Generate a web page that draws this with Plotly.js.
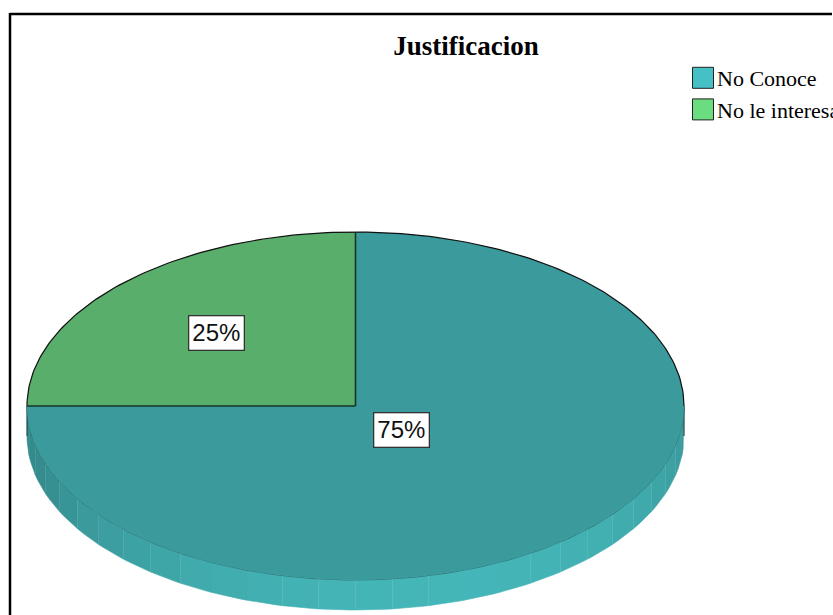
<!DOCTYPE html>
<html>
<head>
<meta charset="utf-8">
<script src="https://cdn.plot.ly/plotly-3.0.1.min.js"></script>
<style>html,body{margin:0;padding:0;background:#fff;}#chart{width:833px;height:615px;}</style>
</head>
<body>
<div id="chart"></div>
<script>
// ---- data ----
const categories = ['No Conoce', 'No le interesa'];
const values = [75, 25];
const pctLabels = ['75%', '25%'];
const chartTitle = 'Justificacion';
// ---- styles ----
const faceColors = ['#3a9a9c', '#5aae6b'];
const legendColors = ['#45c1c6', '#6cdc80'];

// geometry (pixel units, y downward)
const cx = 355.5, cy = 406, ra = 328.5, rb = 174, depth = 30;
const deg = Math.PI / 180;
function pt(theta, dy) { return [cx + ra * Math.cos(theta * deg), cy - rb * Math.sin(theta * deg) + (dy || 0)]; }

const total = values.reduce((s, v) => s + v, 0);
const traces = [];

// slice angle ranges: start at 12 o'clock, clockwise
let start = 90;
const slices = values.map(v => { const sweep = v / total * 360; const s = { a0: start, a1: start - sweep }; start -= sweep; return s; });

function sliceAt(theta) {
  for (let i = 0; i < slices.length; i++) {
    let t = theta; const hi = slices[i].a0, lo = slices[i].a1;
    while (t > hi) t -= 360; while (t < lo) t += 360;
    if (t <= hi && t >= lo) return i;
  }
  return 0;
}
function shade(hex, f) {
  const n = parseInt(hex.slice(1), 16);
  let r = n >> 16, g = (n >> 8) & 255, b = n & 255;
  const m = c => Math.max(0, Math.min(255, Math.round(c * f)));
  return 'rgb(' + m(r) + ',' + m(g) + ',' + m(b) + ')';
}
// side wall (front half), shaded bands
const nb = 28;
for (let k = 0; k < nb; k++) {
  const t0 = -180 + k * 180 / nb, t1 = -180 + (k + 1) * 180 / nb;
  const tm = (t0 + t1) / 2;
  const idx = sliceAt(tm);
  const light = Math.cos((tm + 75) * deg);
  const f = 0.9 + 0.28 * Math.max(0, light);
  const xs = [], ys = [];
  for (let t = t0; t <= t1 + 1e-9; t += (t1 - t0) / 6) { const p = pt(t); xs.push(p[0]); ys.push(p[1]); }
  for (let t = t1; t >= t0 - 1e-9; t -= (t1 - t0) / 6) { const p = pt(t, depth); xs.push(p[0]); ys.push(p[1]); }
  traces.push({ type: 'scatter', mode: 'lines', x: xs, y: ys, fill: 'toself', fillcolor: shade(faceColors[idx], f),
    line: { width: 0.6, color: shade(faceColors[idx], f) }, hoverinfo: 'skip', showlegend: false });
}
[-180, 0].forEach(t => { const p = pt(t), q = pt(t, depth);
  traces.push({ type: 'scatter', mode: 'lines', x: [p[0], q[0]], y: [p[1], q[1]], line: { color: '#1e4a4b', width: 1.2 }, hoverinfo: 'skip', showlegend: false }); });
{
  const xs = [], ys = [];
  for (let t = -180; t <= 0; t += 1) { const p = pt(t); xs.push(p[0]); ys.push(p[1]); }
  traces.push({ type: 'scatter', mode: 'lines', x: xs, y: ys, line: { color: '#2c7375', width: 1 }, hoverinfo: 'skip', showlegend: false });
}

// top faces
slices.forEach((s, i) => {
  const xs = [cx], ys = [cy];
  const steps = Math.ceil(Math.abs(s.a0 - s.a1));
  for (let j = 0; j <= steps; j++) { const t = s.a0 + (s.a1 - s.a0) * j / steps; const p = pt(t); xs.push(p[0]); ys.push(p[1]); }
  xs.push(cx); ys.push(cy);
  traces.push({ type: 'scatter', mode: 'lines', x: xs, y: ys, fill: 'toself', fillcolor: faceColors[i],
    line: { width: 0 }, hoverinfo: 'skip', showlegend: false, name: categories[i] });
});
{
  const xs = [], ys = [];
  for (let t = 0; t <= 180; t += 1) { const p = pt(t); xs.push(p[0]); ys.push(p[1]); }
  traces.push({ type: 'scatter', mode: 'lines', x: xs, y: ys, line: { color: '#111', width: 1.2 }, hoverinfo: 'skip', showlegend: false });
}
slices.forEach(s => { const p = pt(s.a0);
  traces.push({ type: 'scatter', mode: 'lines', x: [cx, p[0]], y: [cy, p[1]], line: { color: '#163526', width: 1.6 }, hoverinfo: 'skip', showlegend: false }); });

// legend entries
categories.forEach((c, i) => traces.push({ type: 'scatter', mode: 'markers', x: [null], y: [null], name: c,
  marker: { symbol: 'square', size: 16, color: legendColors[i], line: { color: '#222', width: 1 } }, showlegend: true }));

// labels
const labelPos = [[401, 430], [216, 333]];
const labelFont = { family: 'Liberation Sans Narrow, Arial Narrow, Liberation Sans, sans-serif', size: 24, color: '#111' };
const annotations = pctLabels.map((t, i) => ({ x: labelPos[i][0], y: labelPos[i][1], xref: 'x', yref: 'y', text: t, showarrow: false,
  font: labelFont, bgcolor: '#fff', bordercolor: '#333', borderwidth: 1.3, borderpad: 3 }));

const layout = {
  width: 833, height: 615, margin: { l: 0, r: 0, t: 0, b: 0, autoexpand: false },
  paper_bgcolor: '#fff', plot_bgcolor: '#fff',
  xaxis: { range: [0, 833], visible: false, fixedrange: true },
  yaxis: { range: [615, 0], visible: false, fixedrange: true },
  title: { text: '<b>' + chartTitle + '</b>', x: 466 / 833, xanchor: 'center', y: 1 - 46 / 615, yanchor: 'middle',
    font: { family: 'Liberation Serif', size: 27, color: '#000' } },
  showlegend: true,
  legend: { x: 677 / 833, y: 1 - 57 / 615, xanchor: 'left', yanchor: 'top', bgcolor: 'rgba(0,0,0,0)',
    font: { family: 'Liberation Serif', size: 22, color: '#000' }, itemwidth: 30, tracegroupgap: 0 },
  annotations: annotations,
  shapes: [
    { type: 'line', xref: 'paper', yref: 'paper', x0: 10 / 833, x1: 832 / 833, y0: 1 - 14 / 615, y1: 1 - 14 / 615, line: { color: '#000', width: 2.5 } },
    { type: 'line', xref: 'paper', yref: 'paper', x0: 10 / 833, x1: 10 / 833, y0: 1 - 13 / 615, y1: 0, line: { color: '#000', width: 2.5 } }
  ]
};
Plotly.newPlot('chart', traces, layout, { displayModeBar: false, staticPlot: true }).then(gd => {
  // enlarge legend keys and tuck them next to the text, as in the reference
  gd.querySelectorAll('.legend .legendpoints').forEach(g => {
    g.setAttribute('transform', 'translate(6,0)');
    g.querySelectorAll('path').forEach(p => p.setAttribute('d', 'M10.5,10.5H-10.5V-10.5H10.5Z'));
  });
});
</script>
</body>
</html>
